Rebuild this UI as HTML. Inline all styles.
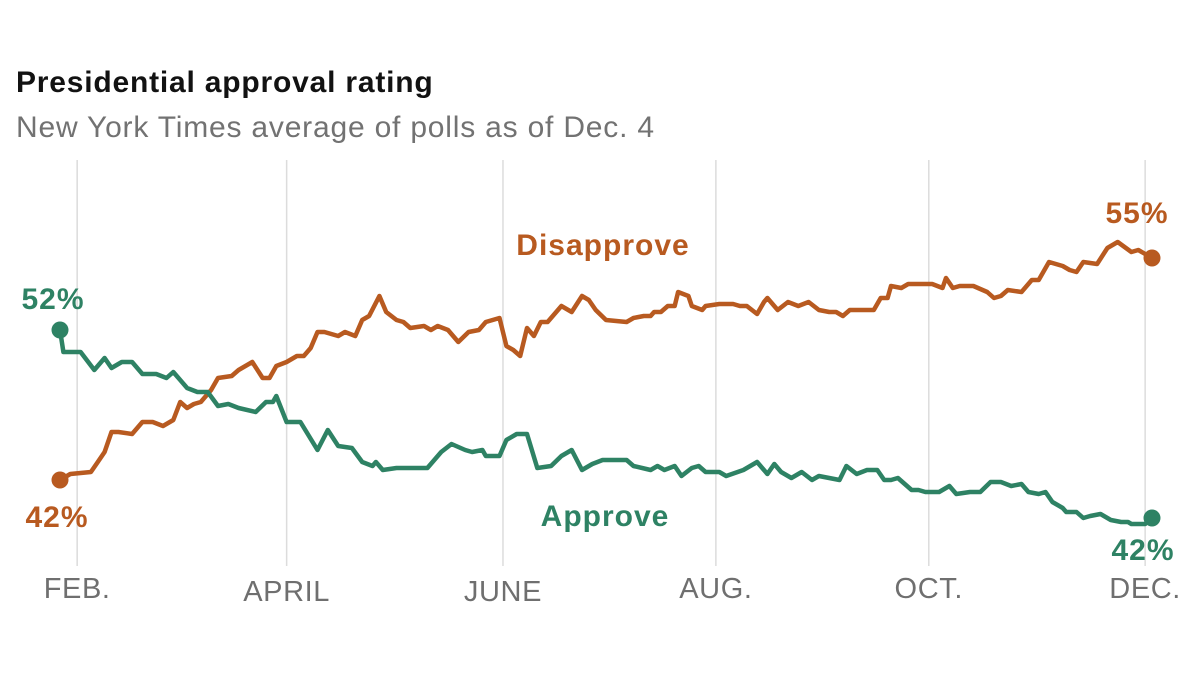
<!DOCTYPE html>
<html><head><meta charset="utf-8"><style>
html,body{margin:0;padding:0;background:#fff;width:1200px;height:676px;overflow:hidden}
svg{display:block;font-family:"Liberation Sans",sans-serif}
</style></head><body>
<svg id="chart" width="1200" height="676">
<text x="16" y="92" font-size="30" font-weight="bold" letter-spacing="0.8" fill="#121212">Presidential approval rating</text>
<text x="16" y="137" font-size="30" letter-spacing="0.8" fill="#727272">New York Times average of polls as of Dec. 4</text>
<g id="grid"></g><g id="lines"></g><g id="labels"></g>
</svg>
<script>
const tickDays=[5,66,129,191,253,316];
const tickLabels=["FEB.","APRIL","JUNE","AUG.","OCT.","DEC."];
const approveDays=[0,1,6,10,13,15,18,21,24,28,31,33,37,40,43,46,49,52,57,60,62,63,66,70,75,78,81,85,88,91,92,94,98,103,107,109,111,114,118,120,123,124,128,130,133,136,139,143,146,149,152,155,158,165,167,172,174,176,179,181,184,186,188,192,194,199,203,206,208,210,213,216,219,221,227,229,232,235,238,240,242,244,248,250,252,256,259,261,265,268,271,274,277,280,282,285,287,289,292,293,296,298,300,303,306,309,311,312,316,318];
const approveValues=[52.0,50.9,50.9,50.0,50.6,50.1,50.4,50.4,49.8,49.8,49.6,49.9,49.1,48.9,48.9,48.2,48.3,48.1,47.9,48.4,48.4,48.7,47.4,47.4,46.0,47.0,46.2,46.1,45.4,45.2,45.4,45.0,45.1,45.1,45.1,45.5,45.9,46.3,46.0,45.9,46.0,45.7,45.7,46.5,46.8,46.8,45.1,45.2,45.7,46.0,45.0,45.3,45.5,45.5,45.2,45.0,45.2,45.0,45.2,44.7,45.1,45.2,44.9,44.9,44.7,45.0,45.4,44.8,45.3,44.9,44.6,44.9,44.5,44.7,44.5,45.2,44.8,45.0,45.0,44.5,44.5,44.6,44.0,44.0,43.9,43.9,44.2,43.8,43.9,43.9,44.4,44.4,44.2,44.3,43.9,43.8,43.9,43.4,43.1,42.9,42.9,42.6,42.7,42.8,42.5,42.4,42.4,42.3,42.3,42.6];
const disDays=[0,3,9,11,13,15,17,21,24,27,30,33,35,37,39,41,44,46,50,52,56,59,61,63,66,69,71,73,75,77,79,81,83,86,88,90,93,95,98,100,102,106,108,110,113,116,119,122,124,128,130,132,134,136,138,140,142,146,149,152,154,156,159,165,167,170,172,173,175,177,179,180,183,184,187,188,192,196,198,200,203,205,206,209,212,215,218,221,224,226,228,230,234,237,239,241,242,245,247,250,254,257,258,260,262,266,270,272,274,276,280,283,285,288,292,294,296,298,302,305,308,312,314,318];
const disValues=[44.5,44.8,44.9,45.4,45.9,46.9,46.9,46.8,47.4,47.4,47.2,47.5,48.4,48.1,48.3,48.4,49.0,49.6,49.7,50.0,50.4,49.6,49.6,50.2,50.4,50.7,50.7,51.1,51.9,51.9,51.8,51.7,51.9,51.7,52.5,52.7,53.7,52.9,52.5,52.4,52.1,52.2,52.0,52.2,52.0,51.4,51.9,52.0,52.4,52.6,51.2,51.0,50.7,52.1,51.7,52.4,52.4,53.2,52.9,53.7,53.5,53.0,52.5,52.4,52.6,52.7,52.7,52.9,52.9,53.2,53.2,53.9,53.7,53.2,53.0,53.2,53.3,53.3,53.2,53.2,52.8,53.4,53.6,53.0,53.4,53.2,53.4,53.0,52.9,52.9,52.7,53.0,53.0,53.0,53.6,53.6,54.2,54.1,54.3,54.3,54.3,54.1,54.6,54.1,54.2,54.2,53.9,53.6,53.7,54.0,53.9,54.5,54.5,55.4,55.2,55.0,54.9,55.4,55.3,56.1,56.4,55.9,56.0,55.6];
const X=d=>60+d*(1092/318);
const Y=v=>330-(v-52)*20;
const NS="http://www.w3.org/2000/svg";
const grid=document.getElementById('grid'),lines=document.getElementById('lines');
tickDays.forEach((d,i)=>{
  const l=document.createElementNS(NS,'line');
  l.setAttribute('x1',X(d));l.setAttribute('x2',X(d));l.setAttribute('y1',160);l.setAttribute('y2',566);
  l.setAttribute('stroke','#dcdcdc');l.setAttribute('stroke-width','1.5');
  
  
  grid.appendChild(l);
  const t=document.createElementNS(NS,'text');
  t.setAttribute('x',X(d));t.setAttribute('y',i==1||i==2?601:598);t.setAttribute('text-anchor','middle');
  t.setAttribute('font-size','29');t.setAttribute('letter-spacing','0.6');t.setAttribute('fill','#6f6f6f');t.textContent=tickLabels[i];
  
  
  grid.appendChild(t);
});
function series(days,vals,color,name){
  const p=document.createElementNS(NS,'path');
  p.setAttribute('d',days.map((d,i)=>(i?'L':'M')+X(d).toFixed(1)+','+Y(vals[i]).toFixed(1)).join(''));
  p.setAttribute('fill','none');p.setAttribute('stroke',color);p.setAttribute('stroke-width','4.5');
  p.setAttribute('stroke-linejoin','round');p.setAttribute('stroke-linecap','round');
  
  
  lines.appendChild(p);
  [0,days.length-1].forEach(i=>{
    const c=document.createElementNS(NS,'circle');
    c.setAttribute('cx',X(days[i]));c.setAttribute('cy',Y(vals[i]));c.setAttribute('r','8.5');c.setAttribute('fill',color);
    
    
    lines.appendChild(c);
  });
}
const G="#2e8264",O="#b85a20";
series(disDays,disValues,O,'disapprove');
series(approveDays,approveValues,G,'approve');
</script>
<svg width="1200" height="676" style="position:absolute;left:0;top:0">
<g font-family="Liberation Sans,sans-serif" font-weight="bold" font-size="30" letter-spacing="1">
<text x="53" y="309" text-anchor="middle" fill="#2e8264">52%</text>
<text x="57" y="527" text-anchor="middle" fill="#b85a20">42%</text>
<text x="1137" y="223" text-anchor="middle" fill="#b85a20">55%</text>
<text x="1143" y="560" text-anchor="middle" fill="#2e8264">42%</text>
<text x="603" y="255" text-anchor="middle" fill="#b85a20">Disapprove</text>
<text x="605" y="526" text-anchor="middle" fill="#2e8264">Approve</text>
</g></svg>
</body></html>
